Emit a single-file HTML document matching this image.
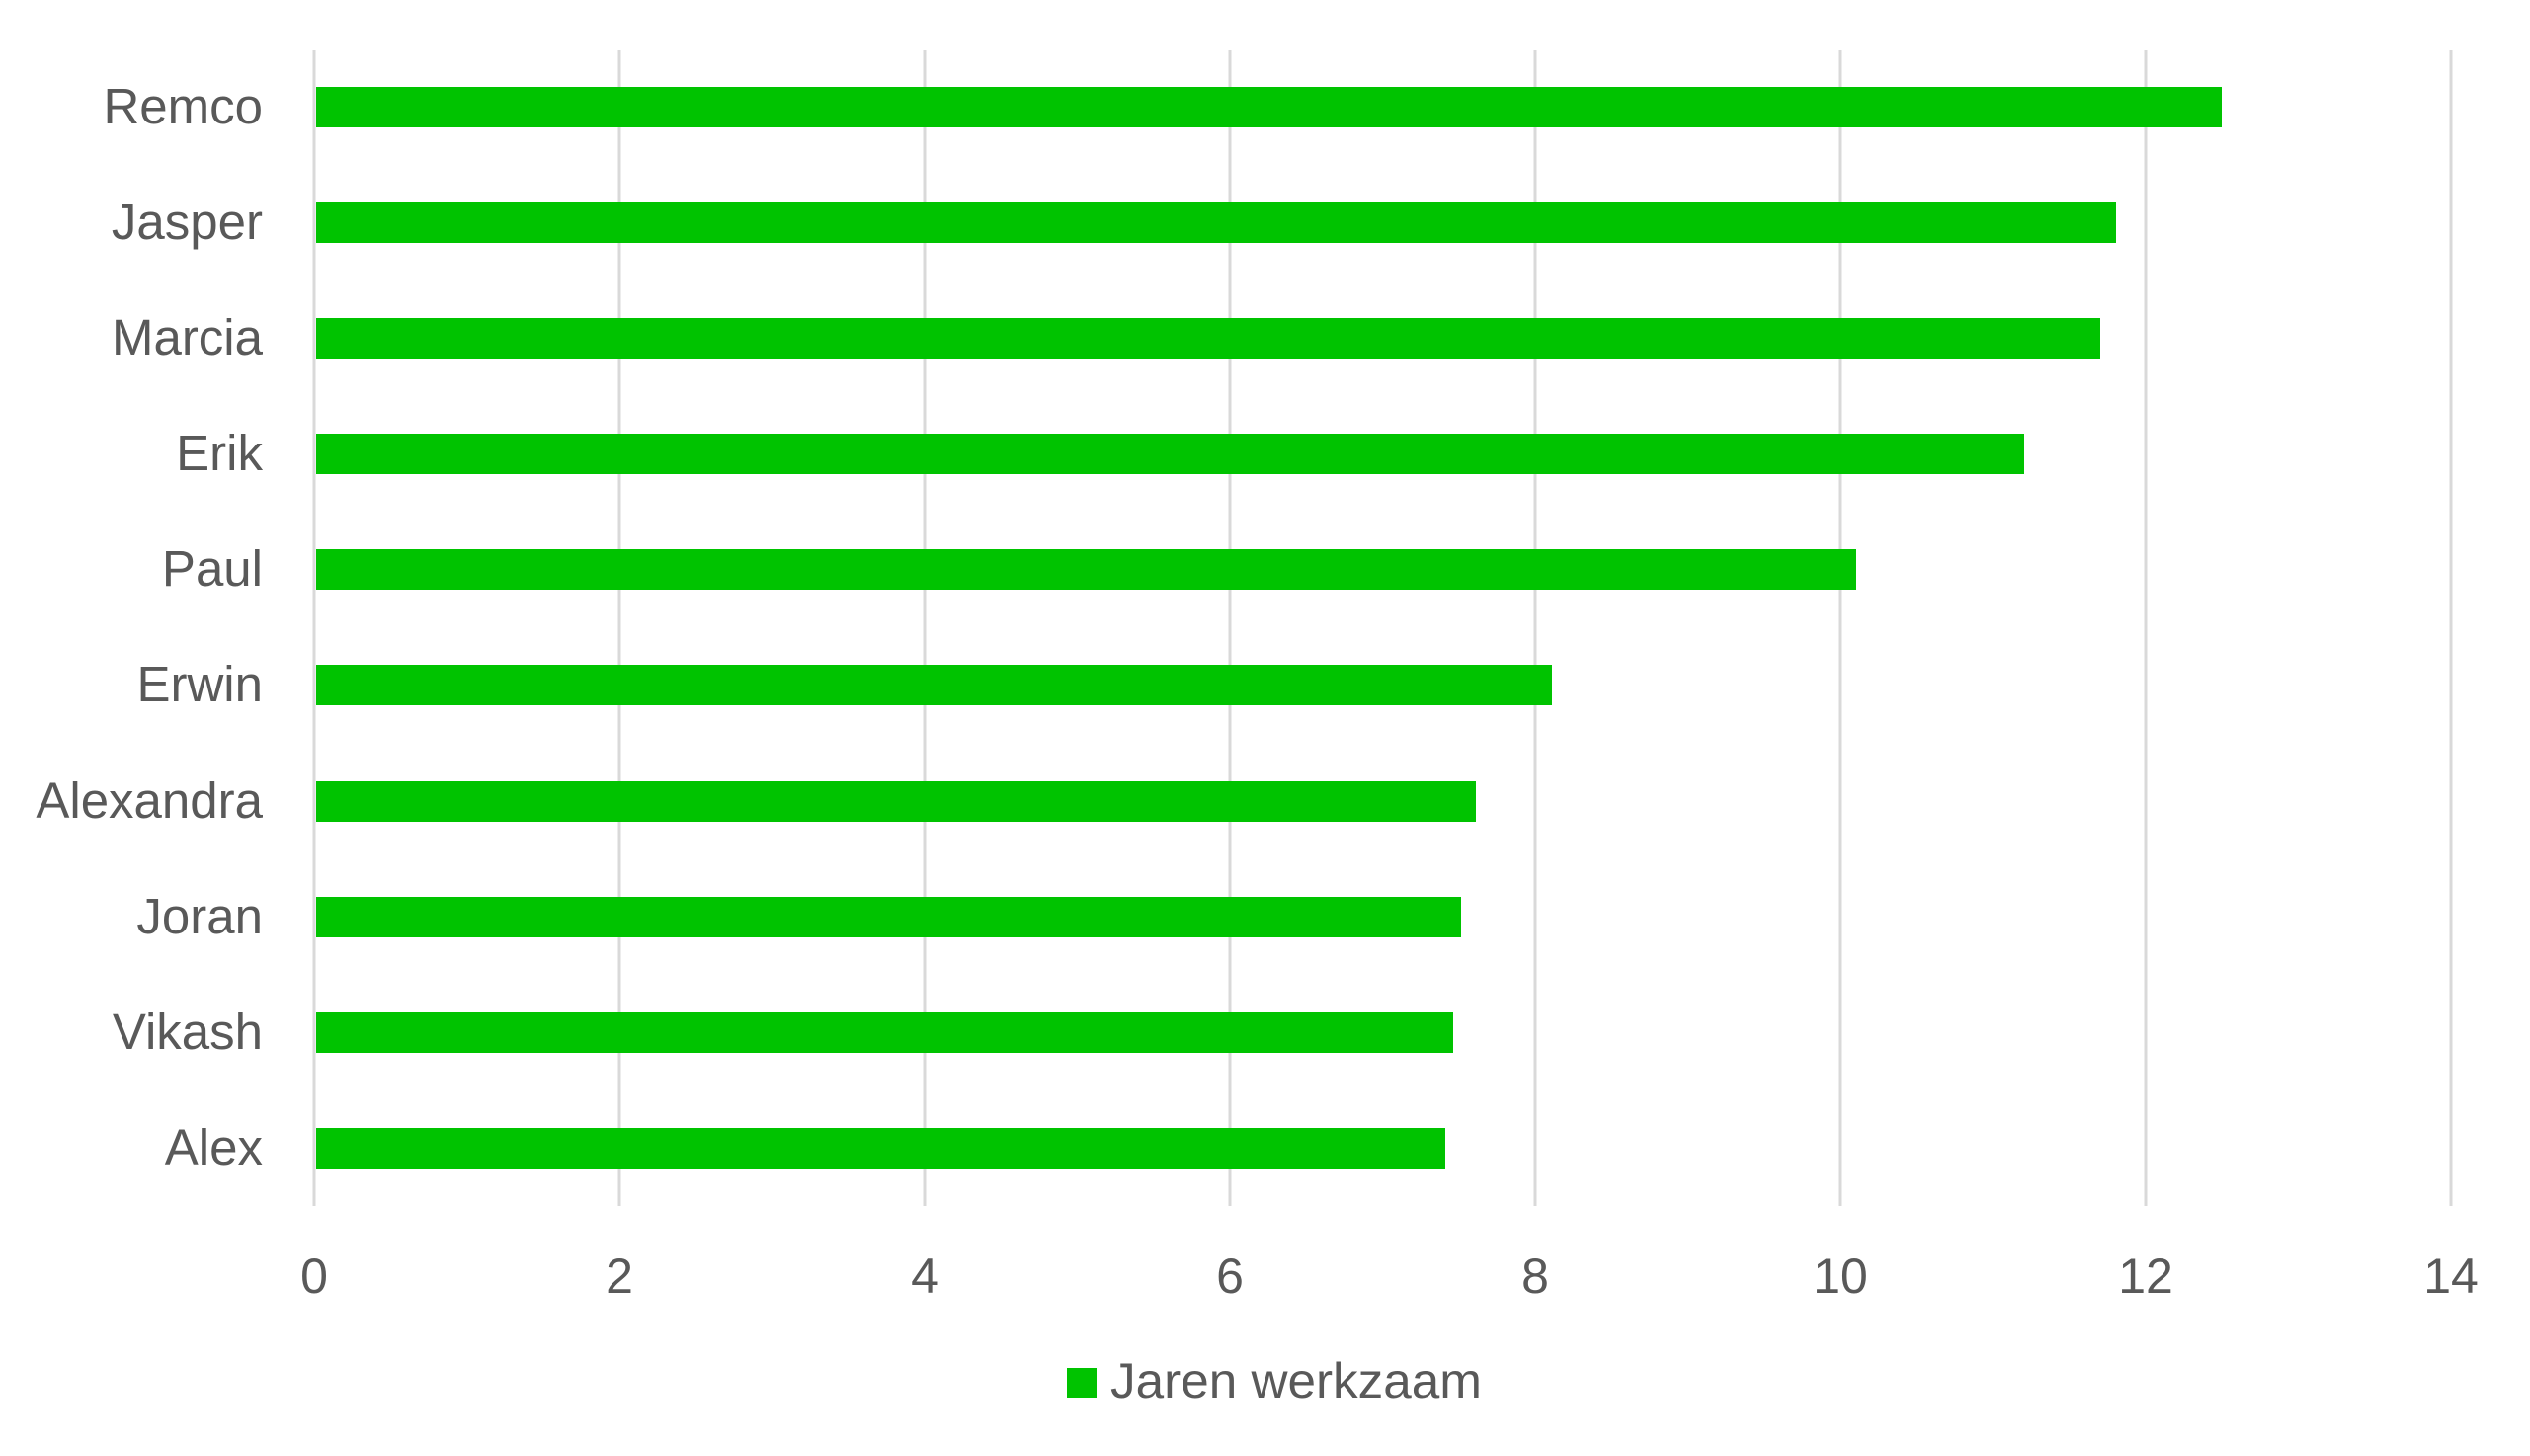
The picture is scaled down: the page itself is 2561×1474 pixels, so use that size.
<!DOCTYPE html>
<html><head><meta charset="utf-8"><style>
html,body{margin:0;padding:0;background:#fff;}
svg{display:block;}
text{font-family:"Liberation Sans",sans-serif;fill:#595959;}
</style></head><body>
<svg width="2561" height="1474" viewBox="0 0 2561 1474" xmlns="http://www.w3.org/2000/svg">
<rect width="2561" height="1474" fill="#fff"/>
<g stroke="#d9d9d9" stroke-width="3">
<line x1="318" y1="51" x2="318" y2="1221"/>
<line x1="627" y1="51" x2="627" y2="1221"/>
<line x1="936" y1="51" x2="936" y2="1221"/>
<line x1="1245" y1="51" x2="1245" y2="1221"/>
<line x1="1554" y1="51" x2="1554" y2="1221"/>
<line x1="1863" y1="51" x2="1863" y2="1221"/>
<line x1="2172" y1="51" x2="2172" y2="1221"/>
<line x1="2481" y1="51" x2="2481" y2="1221"/>
</g>
<g fill="#00c300">
<rect x="320" y="88" width="1929" height="41"/>
<rect x="320" y="205" width="1822" height="41"/>
<rect x="320" y="322" width="1806" height="41"/>
<rect x="320" y="439" width="1729" height="41"/>
<rect x="320" y="556" width="1559" height="41"/>
<rect x="320" y="673" width="1251" height="41"/>
<rect x="320" y="791" width="1174" height="41"/>
<rect x="320" y="908" width="1159" height="41"/>
<rect x="320" y="1025" width="1151" height="41"/>
<rect x="320" y="1142" width="1143" height="41"/>
</g>
<g font-size="51" text-anchor="end">
<text x="266" y="125">Remco</text>
<text x="266" y="242">Jasper</text>
<text x="266" y="359">Marcia</text>
<text x="266" y="476">Erik</text>
<text x="266" y="593">Paul</text>
<text x="266" y="710">Erwin</text>
<text x="266" y="828">Alexandra</text>
<text x="266" y="945">Joran</text>
<text x="266" y="1062">Vikash</text>
<text x="266" y="1179">Alex</text>
</g>
<g font-size="50" text-anchor="middle">
<text x="318" y="1309">0</text>
<text x="627" y="1309">2</text>
<text x="936" y="1309">4</text>
<text x="1245" y="1309">6</text>
<text x="1554" y="1309">8</text>
<text x="1863" y="1309">10</text>
<text x="2172" y="1309">12</text>
<text x="2481" y="1309">14</text>
</g>
<rect x="1080" y="1385" width="30" height="30" fill="#00c300"/>
<text x="1124" y="1415" font-size="50" textLength="376" lengthAdjust="spacingAndGlyphs">Jaren werkzaam</text>
</svg>
</body></html>
